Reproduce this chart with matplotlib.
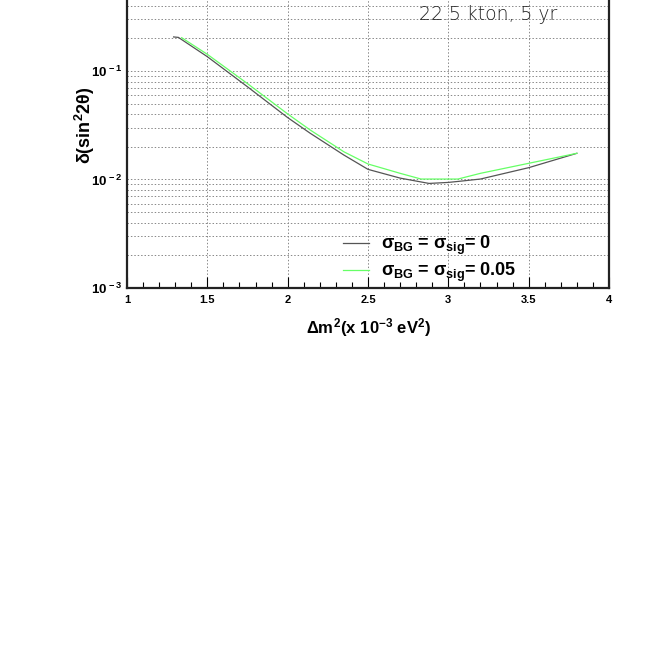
import numpy as np
import matplotlib
matplotlib.use("Agg")
import matplotlib.pyplot as plt
from matplotlib.ticker import FixedLocator, MultipleLocator, LogLocator, NullFormatter

plt.rcParams['font.family'] = ['Liberation Sans', 'DejaVu Sans']
plt.rcParams['mathtext.fontset'] = 'custom'
plt.rcParams['mathtext.rm'] = 'Liberation Sans:bold'
plt.rcParams['mathtext.bf'] = 'Liberation Sans:bold'
plt.rcParams['mathtext.it'] = 'Liberation Sans:bold'
plt.rcParams['mathtext.sf'] = 'Liberation Sans:bold'

# Data (dm2 in 1e-3 eV^2, delta sin^2 2theta)
dm2_nosys = [1.29, 1.32, 1.50, 1.75, 2.00, 2.14, 2.35, 2.50, 2.70, 2.88,
             3.00, 3.09, 3.20, 3.50, 3.80]
err_nosys = [0.206, 0.204, 0.1355, 0.0715, 0.0372, 0.0267, 0.0168, 0.0124,
             0.0103, 0.0092, 0.0094, 0.0097, 0.0101, 0.01285, 0.01744]

dm2_sys = [1.34, 1.50, 1.75, 2.00, 2.14, 2.35, 2.50, 2.70, 2.83,
           3.06, 3.20, 3.50, 3.80]
err_sys = [0.2028, 0.1425, 0.0765, 0.0402, 0.0286, 0.0180, 0.0139,
           0.0114, 0.0101, 0.0101, 0.0114, 0.0141, 0.01744]

labels = [r'$\sigma_{BG}$ = $\sigma_{sig}$= 0', r'$\sigma_{BG}$ = $\sigma_{sig}$= 0.05']
xticks = [1, 1.5, 2, 2.5, 3, 3.5, 4]
xticklabels = ['1', '1.5', '2', '2.5', '3', '3.5', '4']
yticks = [1e-3, 1e-2, 1e-1]
yticklabels = [r'$10^{\,-3}$', r'$10^{\,-2}$', r'$10^{\,-1}$']

fig = plt.figure(figsize=(6.64, 6.64), dpi=100)
# axes top extends beyond the figure, as in the reference
ax = fig.add_axes([127 / 664, 376 / 664, 482 / 664, 325.5 / 664])

ax.plot(dm2_nosys, err_nosys, color='#555555', lw=0.9, label=labels[0])
ax.plot(dm2_sys, err_sys, color='#66ff66', lw=0.9, label=labels[1])

ax.set_yscale('log')
ax.set_xlim(1, 4)
ax.set_ylim(1e-3, 1)

ax.xaxis.set_major_locator(FixedLocator(xticks))
ax.set_xticklabels(xticklabels, fontsize=8, fontweight='bold')
ax.xaxis.set_minor_locator(MultipleLocator(0.1))
ax.set_yticks(yticks)
ax.set_yticklabels(yticklabels, fontsize=9.5)
ax.yaxis.set_minor_locator(LogLocator(base=10, subs=np.arange(2, 10)))
ax.yaxis.set_minor_formatter(NullFormatter())

ax.tick_params(axis='x', which='major', direction='in', length=8, width=0.8, pad=5)
ax.tick_params(axis='x', which='minor', direction='in', length=4, width=0.8)
ax.tick_params(axis='y', which='both', direction='in', length=0, pad=3)

ax.grid(True, which='major', axis='x', color='#888888', ls=(0, (1.5, 2)), lw=0.7)
ax.grid(True, which='both', axis='y', color='#888888', ls=(0, (1.5, 2)), lw=0.7)

for side in ['left', 'bottom', 'right', 'top']:
    ax.spines[side].set_linewidth(1.6)
    ax.spines[side].set_color('#222222')

ax.set_xlabel(r'$\Delta m^2$(x 10$^{-3}$ eV$^2$)', fontsize=12, fontweight='bold', labelpad=8)
ax.set_ylabel(r'$\delta$(sin$^2$2$\theta$)', fontsize=13, fontweight='bold')
ax.yaxis.set_label_coords(-0.062, 0.5)

ax.text(0.749, 0.839, '22.5 kton, 5 yr', transform=ax.transAxes, ha='center', va='center',
        fontsize=13.5, color='#222222', family='DejaVu Sans', fontweight='light')

ax.legend(loc='center left', bbox_to_anchor=(0.415, 0.089), frameon=False,
          handlelength=1.4, handletextpad=0.7, labelspacing=0.2,
          prop={'weight': 'bold', 'size': 13})

fig.savefig('out.png', dpi=100)
